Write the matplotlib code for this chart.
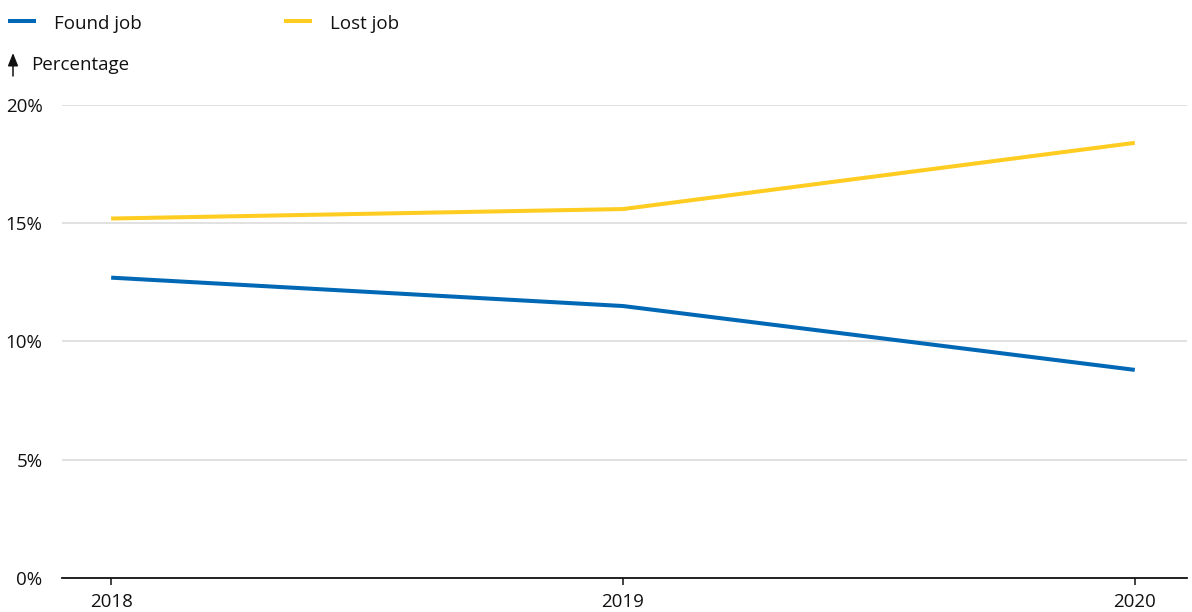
import matplotlib
matplotlib.use("Agg")
import matplotlib.pyplot as plt
from matplotlib.lines import Line2D
from matplotlib.patches import FancyArrowPatch

years = [2018, 2019, 2020]
found_job = [12.7, 11.5, 8.8]
lost_job = [15.2, 15.6, 18.4]
y_ticks = [0, 5, 10, 15, 20]
y_labels = ["0%", "5%", "10%", "15%", "20%"]

BLUE = "#0068b4"
YELLOW = "#ffcc22"
GRID = "#dcdcdc"

plt.rcParams["font.family"] = ["Open Sans", "DejaVu Sans"]
W, H = 1192, 612
fig = plt.figure(figsize=(W / 100, H / 100), dpi=100)
ax = fig.add_axes([62 / W, (H - 578) / H, (1187 - 62) / W, (578 - 105) / H])

ax.plot(years, found_job, color=BLUE, lw=2.9, solid_capstyle="butt", zorder=3)
ax.plot(years, lost_job, color=YELLOW, lw=2.9, solid_capstyle="butt", zorder=3)

ax.set_xlim(2017.904, 2020.102)
ax.set_ylim(0, 20)
ax.set_yticks(y_ticks)
ax.set_yticklabels(y_labels)
ax.set_xticks(years)
ax.set_xticklabels([str(y) for y in years])
ax.yaxis.grid(True, color=GRID, lw=1.2)
ax.set_axisbelow(True)
for s in ["top", "right", "left"]:
    ax.spines[s].set_visible(False)
ax.spines["bottom"].set_color("#111111")
ax.spines["bottom"].set_linewidth(1.3)
ax.tick_params(axis="y", length=0, pad=14, labelsize=13.5, labelcolor="#111111")
ax.tick_params(axis="x", length=5, width=1.1, color="#111111", pad=6,
               labelsize=13.5, labelcolor="#111111")

# Legend across the top
def fx(px):
    return px / W

def fy(py):
    return 1 - py / H

fig.add_artist(Line2D([fx(8), fx(36)], [fy(21), fy(21)], color=BLUE, lw=2.9,
                      solid_capstyle="butt"))
fig.text(fx(54), fy(24), "Found job", fontsize=13.5, va="center", color="#111111")
fig.add_artist(Line2D([fx(284), fx(312)], [fy(21), fy(21)], color=YELLOW, lw=2.9,
                      solid_capstyle="butt"))
fig.text(fx(330), fy(24), "Lost job", fontsize=13.5, va="center", color="#111111")

# Axis title with a slim upward arrow
fig.add_artist(FancyArrowPatch(
    (fx(13), fy(76)), (fx(13), fy(53)), transform=fig.transFigure,
    arrowstyle="-|>,head_length=0.55,head_width=0.22", color="#111111",
    lw=1.1, mutation_scale=14, shrinkA=0, shrinkB=0))
fig.text(fx(31), fy(65), "Percentage", fontsize=13.5, va="center", color="#111111")

fig.savefig("out.png", dpi=100)
